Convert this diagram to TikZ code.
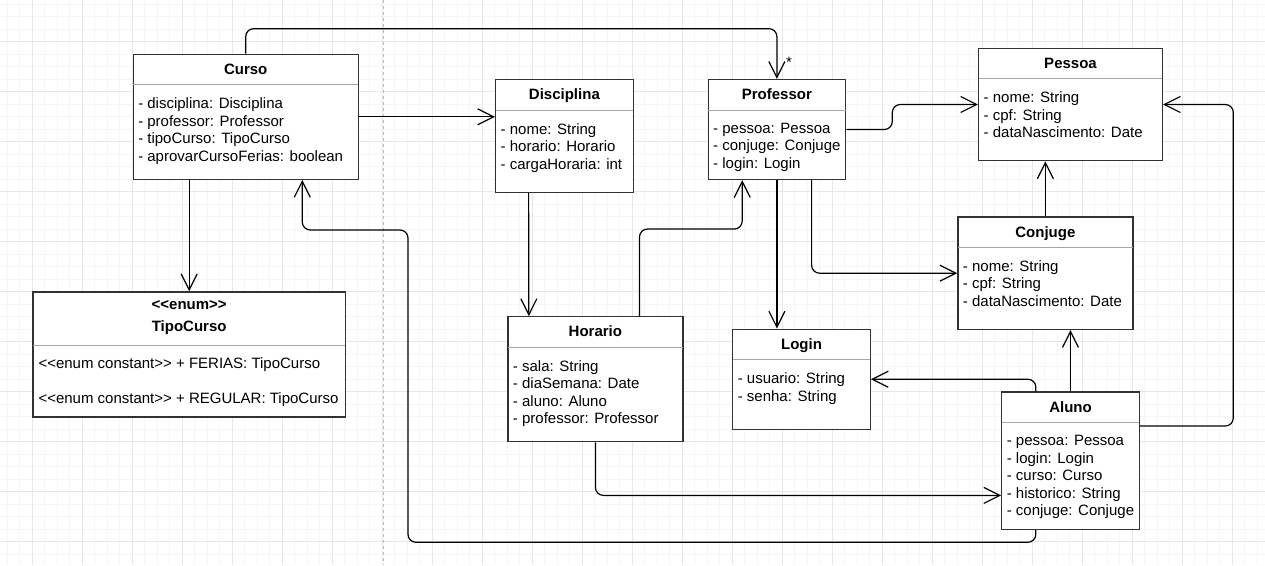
\documentclass[tikz,border=0pt]{standalone}
\usepackage{fontspec}
\newfontfamily\umlfont{Liberation Sans}
\usetikzlibrary{arrows.meta,calc}

\definecolor{gridminor}{RGB}{245,245,245}
\definecolor{gridmajor}{RGB}{231,231,231}
\definecolor{guidegray}{RGB}{190,190,190}
\definecolor{boxline}{RGB}{50,50,50}
\definecolor{sepgray}{RGB}{165,165,165}

\begin{document}
\begin{tikzpicture}[x=1pt,y=-1pt,
        class node/.style={rectangle,draw=boxline,line width=1.3pt,fill=white,inner sep=0pt},
        title node/.style={anchor=north,inner sep=0pt,align=center,
          font=\umlfont\bfseries\fontsize{15}{22}\selectfont,execute at begin node=\rule{0pt}{11pt}},
        attr node/.style={anchor=north west,inner sep=0pt,align=left,
          font=\umlfont\fontsize{15}{17.5}\selectfont,execute at begin node=\rule{0pt}{11pt}},
        sep line/.style={draw=sepgray,line width=1pt,shorten <=0.7pt,shorten >=0.7pt},
        assoc/.style={draw,line width=1.2pt,rounded corners=8pt,
          -{Straight Barb[length=16pt,width=16pt]}}]

        % background and grid
        \fill[white] (0,0) rectangle (1265,565);
        \useasboundingbox (0,0) rectangle (1265,565);
        \foreach \k in {0,...,100} \draw[gridminor,line width=1pt] (7.3+12.5*\k,0) -- ++(0,565);
        \foreach \k in {0,...,45} \draw[gridminor,line width=1pt] (0,4.2+12.5*\k) -- ++(1265,0);
        \foreach \k in {0,...,24} \draw[gridmajor,line width=1pt] (32.3+50*\k,0) -- ++(0,565);
        \foreach \k in {0,...,10} \draw[gridmajor,line width=1pt] (0,41.7+50*\k) -- ++(1265,0);
        \draw[guidegray,line width=1pt,dash pattern=on 3pt off 3pt] (383.3,0) -- (383.3,565);

        % classes
        \node[class node,minimum width=225pt,minimum height=125pt] (curso) at (245.7,116.8) {};
        \node[title node] (curso title) at ($(curso.north)+(0,9.5)$) {Curso};
        \draw[sep line] ($(curso.north west)+(0,31.3)$) -- ($(curso.north east)+(0,31.3)$);
        \node[attr node] (curso attrs) at ($(curso.north west)+(5.5,44)$)
          {- disciplina: Disciplina\\- professor: Professor\\- tipoCurso: TipoCurso\\- aprovarCursoFerias: boolean};

        \node[class node,minimum width=137.5pt,minimum height=112.5pt] (disc) at (564.4,135.9) {};
        \node[title node] (disc title) at ($(disc.north)+(0,9.5)$) {Disciplina};
        \draw[sep line] ($(disc.north west)+(0,31.3)$) -- ($(disc.north east)+(0,31.3)$);
        \node[attr node] (disc attrs) at ($(disc.north west)+(5.5,44)$)
          {- nome: String\\- horario: Horario\\- cargaHoraria: int};

        \node[class node,minimum width=137.5pt,minimum height=100pt] (prof) at (776.9,129.5) {};
        \node[title node] (prof title) at ($(prof.north)+(0,9.5)$) {Professor};
        \draw[sep line] ($(prof.north west)+(0,31.3)$) -- ($(prof.north east)+(0,31.3)$);
        \node[attr node] (prof attrs) at ($(prof.north west)+(5.5,44)$)
          {- pessoa: Pessoa\\- conjuge: Conjuge\\- login: Login};

        \node[class node,minimum width=183.75pt,minimum height=112.5pt] (pessoa) at (1070.5,104.5) {};
        \node[title node] (pessoa title) at ($(pessoa.north)+(0,9.5)$) {Pessoa};
        \draw[sep line] ($(pessoa.north west)+(0,31.3)$) -- ($(pessoa.north east)+(0,31.3)$);
        \node[attr node] (pessoa attrs) at ($(pessoa.north west)+(5.5,44)$)
          {- nome: String\\- cpf: String\\- dataNascimento: Date};

        \node[class node,minimum width=175pt,minimum height=112.5pt] (conj) at (1045.4,273.2) {};
        \node[title node] (conj title) at ($(conj.north)+(0,9.5)$) {Conjuge};
        \draw[sep line] ($(conj.north west)+(0,31.3)$) -- ($(conj.north east)+(0,31.3)$);
        \node[attr node] (conj attrs) at ($(conj.north west)+(5.5,44)$)
          {- nome: String\\- cpf: String\\- dataNascimento: Date};

        \node[class node,minimum width=312.5pt,minimum height=125pt] (tipo) at (189.2,354.4) {};
        \node[title node] (tipo title) at ($(tipo.north)+(0,9.2)$) {<<enum>>\\TipoCurso};
        \draw[sep line] ($(tipo.north west)+(0,54.3)$) -- ($(tipo.north east)+(0,54.3)$);
        \node[attr node] (tipo attrs) at ($(tipo.north west)+(6,66)$)
          {<<enum constant>> + FERIAS: TipoCurso\\[17.2pt]<<enum constant>> + REGULAR: TipoCurso};

        \node[class node,minimum width=175pt,minimum height=125pt] (hor) at (595.4,379.2) {};
        \node[title node] (hor title) at ($(hor.north)+(0,9.5)$) {Horario};
        \draw[sep line] ($(hor.north west)+(0,31.3)$) -- ($(hor.north east)+(0,31.3)$);
        \node[attr node] (hor attrs) at ($(hor.north west)+(5.5,44)$)
          {- sala: String\\- diaSemana: Date\\- aluno: Aluno\\- professor: Professor};

        \node[class node,minimum width=137.5pt,minimum height=100pt] (login) at (801.5,379.2) {};
        \node[title node] (login title) at ($(login.north)+(0,9.5)$) {Login};
        \draw[sep line] ($(login.north west)+(0,31.3)$) -- ($(login.north east)+(0,31.3)$);
        \node[attr node] (login attrs) at ($(login.north west)+(5.5,44)$)
          {- usuario: String\\- senha: String};

        \node[class node,minimum width=137.5pt,minimum height=137.5pt] (aluno) at (1070.5,460.7) {};
        \node[title node] (aluno title) at ($(aluno.north)+(0,9.5)$) {Aluno};
        \draw[sep line] ($(aluno.north west)+(0,31.3)$) -- ($(aluno.north east)+(0,31.3)$);
        \node[attr node] (aluno attrs) at ($(aluno.north west)+(5.5,44)$)
          {- pessoa: Pessoa\\- login: Login\\- curso: Curso\\- historico: String\\- conjuge: Conjuge};

        % associations
        \draw[assoc] (curso.north) -- ++(0,-25) -| (prof.north);
        \node[anchor=base west,inner sep=0pt,font=\umlfont\fontsize{15}{17.5}\selectfont] (star) at ($(prof.north)+(9,-11)$) {*};
        \draw[assoc] (curso.east) -- (curso.east -| disc.west);
        \draw[assoc] (curso.south -| tipo.north) -- (tipo.north);
        \draw[assoc] ($(aluno.south west)!0.25!(aluno.south east)$) -- ++(0,12.2) -| (408,230)
          -| ($(curso.south west)!0.75!(curso.south east)$);
        \draw[assoc] ($(disc.south west)+(33.6,0)$) -- ($(hor.north west)+(21.6,0)$);
        \draw[assoc] ($(hor.north west)!0.75!(hor.north east)$) -- ++(0,-87)
          -| ($(prof.south west)!0.25!(prof.south east)$);
        \draw[assoc] (prof.south) -- (prof.south |- login.north);
        \draw[assoc] ($(prof.south west)!0.75!(prof.south east)$) |- (conj.west);
        \draw[assoc] (prof.east) -- ++(46,0) |- (pessoa.west);
        \draw[assoc] (conj.north) -- (conj.north |- pessoa.south);
        \draw[assoc] (aluno.north) -- (aluno.north |- conj.south);
        \draw[assoc] ($(aluno.north west)!0.25!(aluno.north east)$) |- (login.east);
        \draw[assoc] ($(aluno.north east)!0.25!(aluno.south east)$) -- ++(93.4,0) |- (pessoa.east);
        \draw[assoc] (hor.south) |- ($(aluno.north west)!0.75!(aluno.south west)$);
      \end{tikzpicture}
\end{document}
